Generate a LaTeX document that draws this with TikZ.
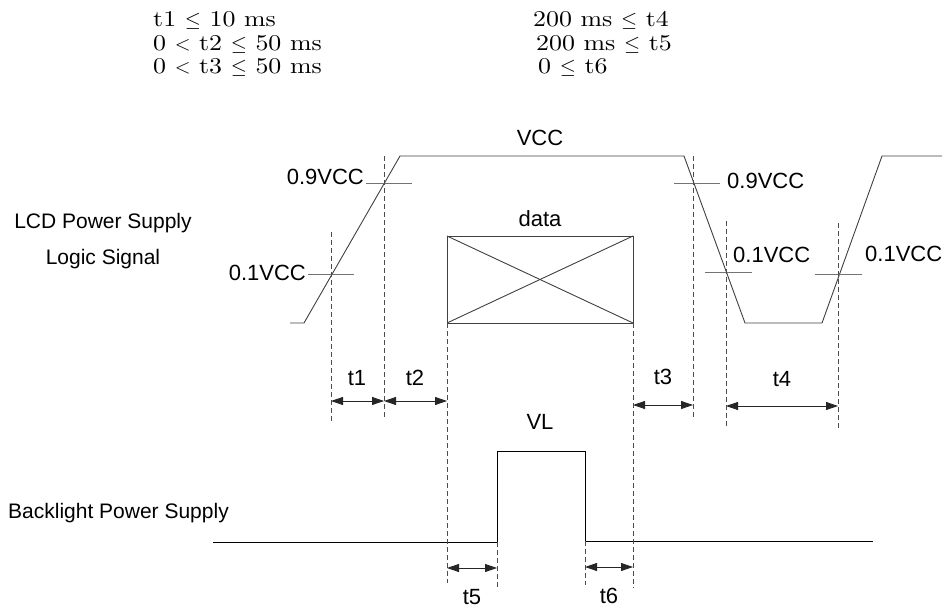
\documentclass[tikz,border=0pt]{standalone}
\usepackage{fontspec}
\setsansfont{Liberation Sans}
\newfontfamily\limitfont{lmroman10-regular.otf}[FakeStretch=1.15]
\usetikzlibrary{arrows.meta}

\begin{document}
\begin{tikzpicture}
 [ x=1pt, y=-1pt
 , wave/.style={black!75, line width=0.9pt}
 , tick/.style={black!55, line width=0.8pt}
 , guide/.style={black!70, line width=0.8pt, dash pattern=on 5pt off 3pt}
 , span/.style={black!85, line width=0.8pt, {Triangle[length=12pt,width=8pt]}-{Triangle[length=12pt,width=8pt]}}
 , label/.style={font=\sffamily\fontsize{22}{26}\selectfont, inner sep=0pt}
 , side/.style={font=\sffamily\fontsize{21}{25}\selectfont, inner sep=0pt}
 , limit/.style={font=\limitfont\fontsize{22.5}{26}\selectfont, inner sep=0pt, anchor=base west, text height=14pt, text depth=2pt}
 ]
  \useasboundingbox (0,0) rectangle (949,609);

  % timing limits
  \node [limit] (l1) at (153,27) {t1 $\leq$ 10 ms};
  \node [limit] (l2) at (153,51) {0 $<$ t2 $\leq$ 50 ms};
  \node [limit] (l3) at (153,74) {0 $<$ t3 $\leq$ 50 ms};
  \node [limit] (l4) at (533,27) {200 ms $\leq$ t4};
  \node [limit] (l5) at (536,51) {200 ms $\leq$ t5};
  \node [limit] (l6) at (538,74) {0 $\leq$ t6};

  % signal names
  \node [side] (lcd)   at (103,223) {LCD Power Supply};
  \node [side] (logic) at (103,259) {Logic Signal};
  \node [side, anchor=west] (back) at (8,513) {Backlight Power Supply};

  % LCD supply waveform
  \coordinate (p0) at (290,323);
  \coordinate (p1) at (304,323);
  \coordinate (p2) at (400,156);
  \coordinate (p3) at (684,156);
  \coordinate (p4) at (745,323);
  \coordinate (p5) at (822,323);
  \coordinate (p6) at (882,156);
  \coordinate (p7) at (942,156);
  \draw [wave] (p0) -- (p1) -- (p2) -- (p3) -- (p4) -- (p5) -- (p6) -- (p7);
  \node [label] (vcc) at (540,138) {VCC};

  % threshold marks
  \draw [tick] (366,183) -- (412,183);
  \draw [tick] (308,274) -- (354,274);
  \draw [tick] (674,183) -- (720,183);
  \draw [tick] (705,272) -- (752,272);
  \draw [tick] (815,274) -- (862,274);
  \node [label, anchor=east] (up90)   at (364,177) {0.9VCC};
  \node [label, anchor=east] (up10)   at (306,273) {0.1VCC};
  \node [label, anchor=west] (down90) at (727,181) {0.9VCC};
  \node [label, anchor=west] (down10) at (733,255) {0.1VCC};
  \node [label, anchor=west] (rise10) at (865,254) {0.1VCC};

  % data window
  \coordinate (d1) at (447,236);
  \coordinate (d2) at (633,236);
  \coordinate (d3) at (633,323);
  \coordinate (d4) at (447,323);
  \draw [wave] (d1) -- (d2) -- (d3) -- (d4) -- cycle;
  \draw [wave] (d1) -- (d3);
  \draw [wave] (d2) -- (d4);
  \node [label] (data) at (540,219) {data};

  % backlight waveform
  \coordinate (b0) at (213,542);
  \coordinate (b1) at (497,542);
  \coordinate (b2) at (497,451);
  \coordinate (b3) at (585,451);
  \coordinate (b4) at (585,541);
  \coordinate (b5) at (873,541);
  \draw [black, line width=0.9pt] (b0) -- (b1) -- (b2) -- (b3) -- (b4) -- (b5);
  \node [label] (vl) at (540,422) {VL};

  % guide lines
  \coordinate (g1) at (331,423);
  \coordinate (g2) at (384,419);
  \coordinate (g3) at (447,583);
  \coordinate (g4) at (633,588);
  \coordinate (g5) at (693,419);
  \coordinate (g6) at (726,427);
  \coordinate (g7) at (838,430);
  \coordinate (g8) at (497,587);
  \coordinate (g9) at (585,585);
  \draw [guide] (331,232) -- (g1);
  \draw [guide] (384,156) -- (g2);
  \draw [guide] (d4) -- (g3);
  \draw [guide] (d3) -- (g4);
  \draw [guide] (693,156) -- (g5);
  \draw [guide] (726,221) -- (g6);
  \draw [guide] (838,223) -- (g7);
  \draw [guide] (b1) -- (g8);
  \draw [guide] (b4) -- (g9);

  % intervals
  \draw [span] (331,401) -- (384,401);
  \draw [span] (384,401) -- (447,401);
  \draw [span] (633,405) -- (693,405);
  \draw [span] (726,406) -- (838,406);
  \draw [span] (447,568) -- (497,568);
  \draw [span] (585,567) -- (633,567);
  \node [label] (t1) at (357,378) {t1};
  \node [label] (t2) at (415,378) {t2};
  \node [label] (t3) at (663,377) {t3};
  \node [label] (t4) at (782,379) {t4};
  \node [label] (t5) at (472,597) {t5};
  \node [label] (t6) at (609,596) {t6};
\end{tikzpicture}
\end{document}
